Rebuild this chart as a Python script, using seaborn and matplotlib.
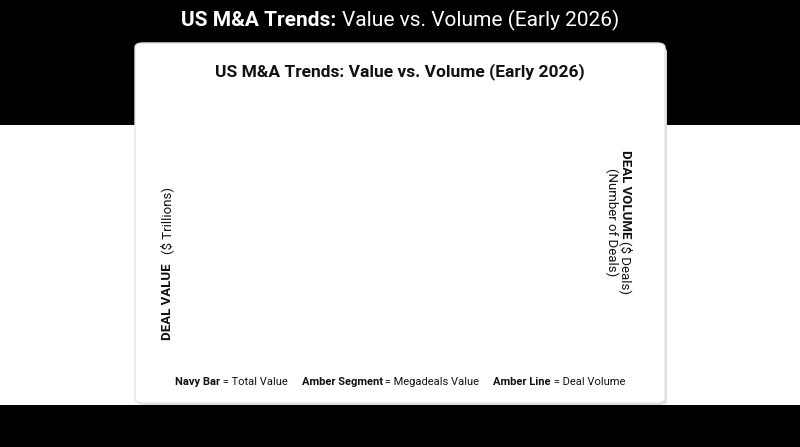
import matplotlib
matplotlib.use("Agg")
import matplotlib.pyplot as plt
import seaborn as sns
import pandas as pd
from matplotlib.patches import FancyBboxPatch, Rectangle

years = ["Early 2025", "Early 2026"]
total_value = [0.6, 1.2]
mega_value = [None, 0.957]
other_value = [None, 0.243]
deal_volume = [4300, 4040]

NAVY = "#14305a"
AMBER = "#d9901e"

sns.set_theme(style="white")
plt.rcParams['font.family'] = ['Roboto', 'DejaVu Sans']
plt.rcParams['text.parse_math'] = False

fig = plt.figure(figsize=(8, 4.47), dpi=100)
fig.patch.set_facecolor("black")
renderer = fig.canvas.get_renderer()

def rich(pieces, cx, cy, size, color="#111", rotation=0):
    """Draw text pieces [(str, weight)] centered at (cx, cy) in pixel coords (from bottom)."""
    widths = []
    for s, w in pieces:
        t = fig.text(0, 0, s, fontsize=size, fontweight=w)
        widths.append(t.get_window_extent(renderer).width)
        t.remove()
    total = sum(widths)
    pos = -total / 2
    for (s, w), wd in zip(pieces, widths):
        if rotation == 0:
            x, y = cx + pos, cy
            fig.text(x / 800, y / 447, s, fontsize=size, fontweight=w, color=color,
                     ha="left", va="center", rotation=0)
        elif rotation == 90:
            x, y = cx, cy + pos
            fig.text(x / 800, y / 447, s, fontsize=size, fontweight=w, color=color,
                     ha="center", va="bottom", rotation=90, rotation_mode="anchor")
        else:
            x, y = cx, cy - pos
            fig.text(x / 800, y / 447, s, fontsize=size, fontweight=w, color=color,
                     ha="left", va="center", rotation=270, rotation_mode="anchor")
        pos += wd

fig.add_artist(Rectangle((0, 42/447), 1, 280/447, transform=fig.transFigure,
                         facecolor="white", edgecolor="none", zorder=0))
fig.add_artist(FancyBboxPatch((137/800, 42/447), 530/800, 358/447, boxstyle="round,pad=0,rounding_size=0.01",
                              transform=fig.transFigure, facecolor="#dddddd", edgecolor="none", zorder=0.5))
fig.add_artist(FancyBboxPatch((135/800, 44/447), 530/800, 360/447, boxstyle="round,pad=0,rounding_size=0.01",
                              transform=fig.transFigure, facecolor="white", edgecolor="#e6e6e6", zorder=0.6))

rich([("US M&A Trends: ", "bold"), ("Value vs. Volume (Early 2026)", "normal")], 400, 447 - 20, 15, color="white")
fig.text(0.5, 1-72/447, "US M&A Trends: Value vs. Volume (Early 2026)", color="#111",
         ha="center", va="center", fontsize=12.5, fontweight="bold")

ax = fig.add_axes([240/800, 1-344/447, 338/800, 234/447])
ax.set_facecolor("none")
df = pd.DataFrame({"year": years, "value": total_value})
sns.barplot(data=df, x="year", y="value", color=NAVY, saturation=1, width=0.75, ax=ax, zorder=2)
ax.bar([1], [mega_value[1] - other_value[1]], bottom=[other_value[1]], width=0.6, color=AMBER, zorder=3)
ax.set_xlim(-0.47, 1.64)
ax.set_ylim(0, 1.2)
ax.set_yticks([0, 0.2, 0.4, 0.6, 0.8, 1.0, 1.2])
ax.set_yticklabels(["0", "0.2", "0.4", "0.6", "0.8", "1.0", "1.2"])
ax.set_xlabel("")
ax.set_ylabel("")
for s in ["top", "right"]:
    ax.spines[s].set_visible(False)
for s in ["left", "bottom"]:
    ax.spines[s].set_color("#333")
ax.tick_params(axis="both", labelsize=10, length=4, color="#333", left=True, bottom=True)

rich([("DEAL VALUE ", "bold"), ("($ Trillions)", "normal")], 174, 447 - 227, 9.5, rotation=90)

ax.text(0, total_value[0] + 0.02, "$0.6T", ha="center", va="bottom", fontsize=11, fontweight="bold")
ax.text(1, total_value[1] + 0.02, "$1.2T", ha="center", va="bottom", fontsize=11, fontweight="bold")
ax.text(1, 0.64, "$957 Billion", ha="center", va="center", color="white", fontsize=10, fontweight="bold", zorder=5)
ax.text(1, 0.54, "(Megadeals)", ha="center", va="center", color="white", fontsize=9.5, zorder=5)
ax.text(1, 0.17, "$243 Billion", ha="center", va="center", color="white", fontsize=10, fontweight="bold", zorder=5)
ax.text(1, 0.075, "(Other)", ha="center", va="center", color="white", fontsize=9.5, zorder=5)

ax2 = ax.twinx()
ax2.set_ylim(0, 5000)
ax2.set_yticks([0, 1000, 2000, 3000, 4000, 5000])
ax2.set_yticklabels(["0", "1k", "2k", "3k", "4k", "5k"])
ax2.plot([0, 1], deal_volume, color=AMBER, lw=2.5, marker="o", ms=6, zorder=6)
ax2.set_ylabel("")
for s in ["top", "left", "bottom"]:
    ax2.spines[s].set_visible(False)
ax2.spines["right"].set_color("#333")
ax2.tick_params(axis="y", labelsize=10, length=4, color="#333", right=True)

rich([("DEAL VOLUME ", "bold"), ("($ Deals)", "normal")], 626, 447 - 222, 9.5, rotation=270)
rich([("(Number of Deals)", "normal")], 612, 447 - 222, 9.5, rotation=270)

ax2.annotate("", xy=(1.0, deal_volume[1] + 30), xytext=(1.25, 4500),
             arrowprops=dict(arrowstyle="-", color=AMBER, lw=2), zorder=7)
ax2.text(1.43, 4500, "4% Dip\nin Volume", ha="center", va="center", fontsize=9.5, fontweight="bold",
         bbox=dict(boxstyle="round,pad=0.4", fc="white", ec=AMBER, lw=2), zorder=8)
ax2.annotate("", xy=(1.3, 2600), xytext=(1.5, 4100),
             arrowprops=dict(arrowstyle="-|>,head_width=0.5,head_length=0.6", color=AMBER, lw=3,
                             connectionstyle="angle,angleA=90,angleB=0,rad=0"), zorder=7)

rich([("Navy Bar", "bold"), (" = Total Value     ", "normal"),
      ("Amber Segment", "bold"), (" = Megadeals Value     ", "normal"),
      ("Amber Line", "bold"), (" = Deal Volume", "normal")], 400, 447 - 382, 8)

fig.savefig("out.png", dpi=100, facecolor=fig.get_facecolor())
